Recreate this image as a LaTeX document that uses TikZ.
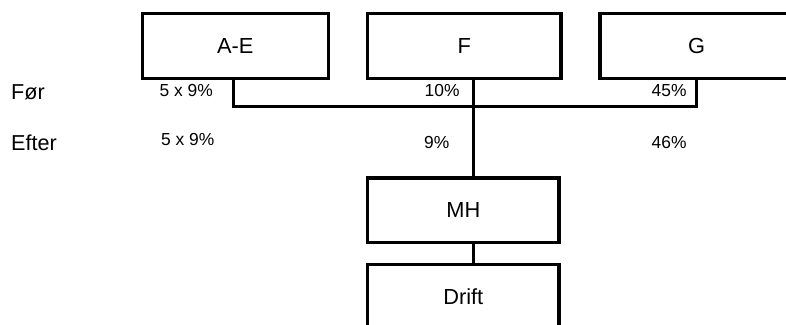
\documentclass[tikz,border=0pt]{standalone}
\usepackage{fontspec}
\setmainfont{Liberation Sans}
\begin{document}
\begin{tikzpicture}[x=1pt,y=-1pt,
  unit/.style={draw, line width=3.3pt, inner sep=0pt, minimum width=#1,
    minimum height=64.5pt, font=\fontsize{21.8}{26}\selectfont},
  unit/.default=191pt,
  link/.style={line width=3.3pt},
  rowlabel/.style={anchor=base west, inner sep=0pt, font=\fontsize{21.6}{26}\selectfont},
  share/.style={anchor=base west, inner sep=0pt, font=\fontsize{17.4}{21}\selectfont}]
  \clip (0,0) rectangle (786,324);

  % owners
  \node[unit=186pt] (AE) at (235.3,46) {A-E};
  \node[unit=193.3pt] (F) at (464.3,46) {F};
  \node[unit=193.3pt] (G) at (696.6,46) {G};

  % company chain
  \node[unit=191.3pt] (MH) at (463.3,210.2) {MH};
  \node[unit=191.3pt] (Drift) at (463.3,296.5) {Drift};

  % ownership connectors
  \coordinate (bus) at (0,106.3);
  \coordinate (trunk) at ([xshift=9.4pt]F.south);
  \draw[link] ([xshift=-2pt]AE.south) |- (bus -| G.south) -- (G.south);
  \draw[link] (trunk) -- (trunk |- MH.north);
  \draw[link] (trunk |- MH.south) -- (trunk |- Drift.north);

  % row labels
  \node[rowlabel] (before) at (11,99.5) {Før};
  \node[rowlabel] (after) at (11,150) {Efter};

  % shares before
  \node[share] (aeB) at (159.5,96.3) {5 x 9\%};
  \node[share] (fB) at (424.5,96.3) {10\%};
  \node[share] (gB) at (651.5,96.5) {45\%};

  % shares after
  \node[share] (aeA) at (161,145.3) {5 x 9\%};
  \node[share] (fA) at (424,148.3) {9\%};
  \node[share] (gA) at (651.5,148.3) {46\%};
\end{tikzpicture}
\end{document}
